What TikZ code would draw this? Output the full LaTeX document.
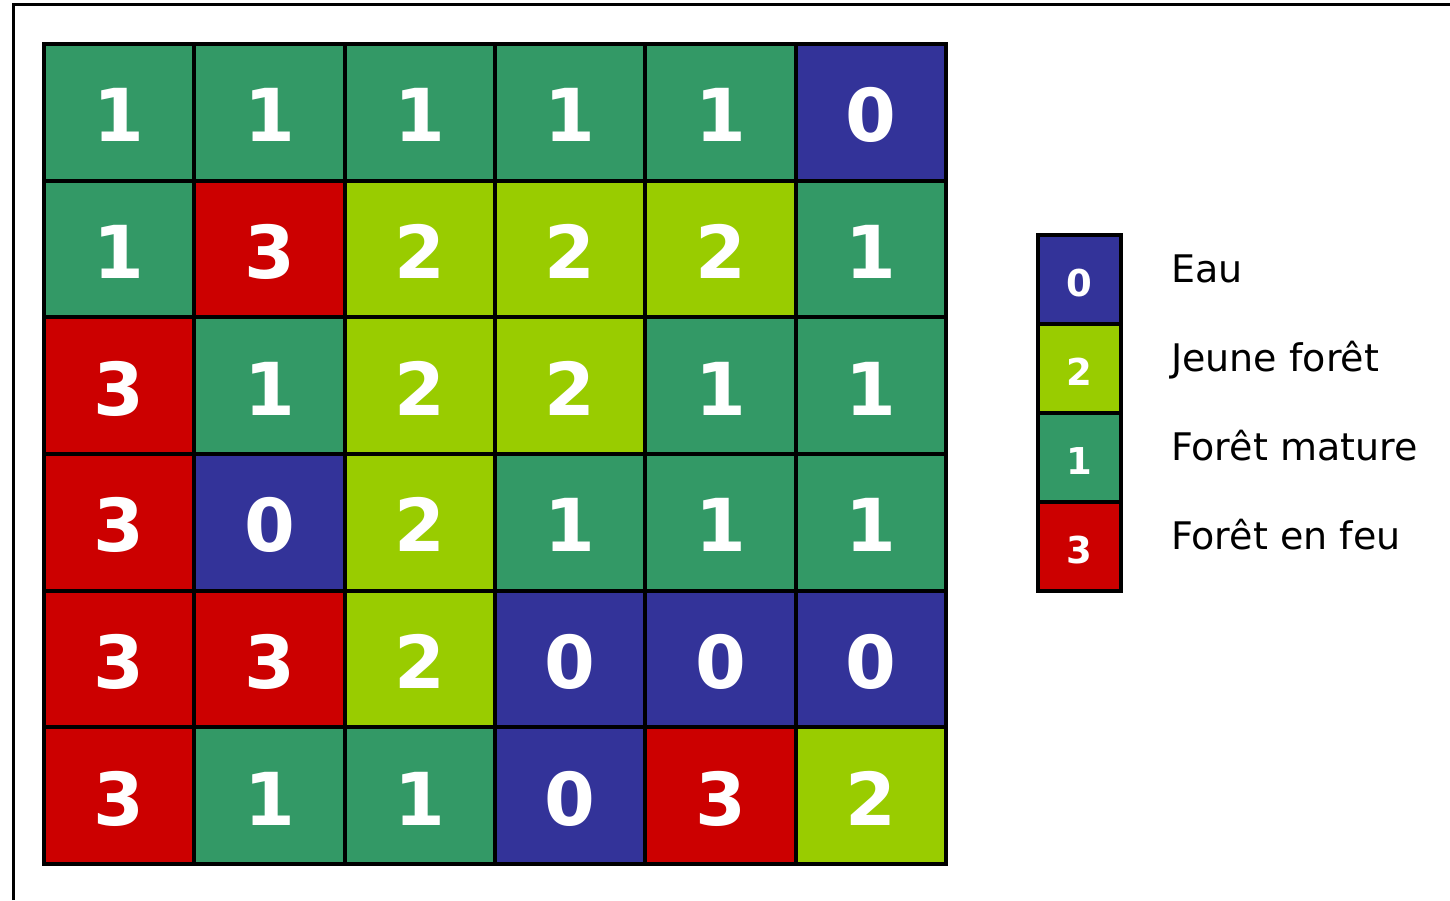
\documentclass[tikz,border=0pt]{standalone}
\usepackage{fontspec}
\setmainfont{DejaVu Sans}
\definecolor{v0}{HTML}{333399}
\definecolor{v1}{HTML}{339966}
\definecolor{v2}{HTML}{99CC00}
\definecolor{v3}{HTML}{CC0000}
\begin{document}
\begin{tikzpicture}[x=1pt,y=-1pt,
  cell/.style={draw=black, line width=4pt, minimum width=150.33pt, minimum height=136.67pt, inner sep=0pt, text height=59pt, text depth=0pt, text=white, font=\fontsize{73}{73}\selectfont\bfseries},
  legcell/.style={draw=black, line width=4pt, minimum width=83pt, minimum height=89pt, inner sep=0pt, text height=34pt, text depth=0pt, text=white, font=\fontsize{37}{37}\selectfont\bfseries},
  leglabel/.style={anchor=base west, inner sep=0pt, text=black, font=\fontsize{38}{38}\selectfont}]
\useasboundingbox (0,0) rectangle (1450,900);
\draw[line width=3pt] (13,900) -- (13,4) -- (1450,4);
\foreach \row [count=\r] in {{1,1,1,1,1,0},{1,3,2,2,2,1},{3,1,2,2,1,1},{3,0,2,1,1,1},{3,3,2,0,0,0},{3,1,1,0,3,2}} {
  \foreach \v [count=\c] in \row {
    \node[cell, fill=v\v] (cell-\r-\c) at ({44+150.33*(\c-0.5)}, {44+136.67*(\r-0.5)}) {\v};
  }
}
\foreach \v/\lab [count=\i] in {0/Eau, 2/Jeune forêt, 1/Forêt mature, 3/Forêt en feu} {
  \node[legcell, fill=v\v] (leg-\i) at (1079.5, {235+89*(\i-0.5)}) {\v};
  \node[leglabel] (lab-\i) at (1171, {235+89*(\i-0.5)+3}) {\lab};
}
\end{tikzpicture}
\end{document}
